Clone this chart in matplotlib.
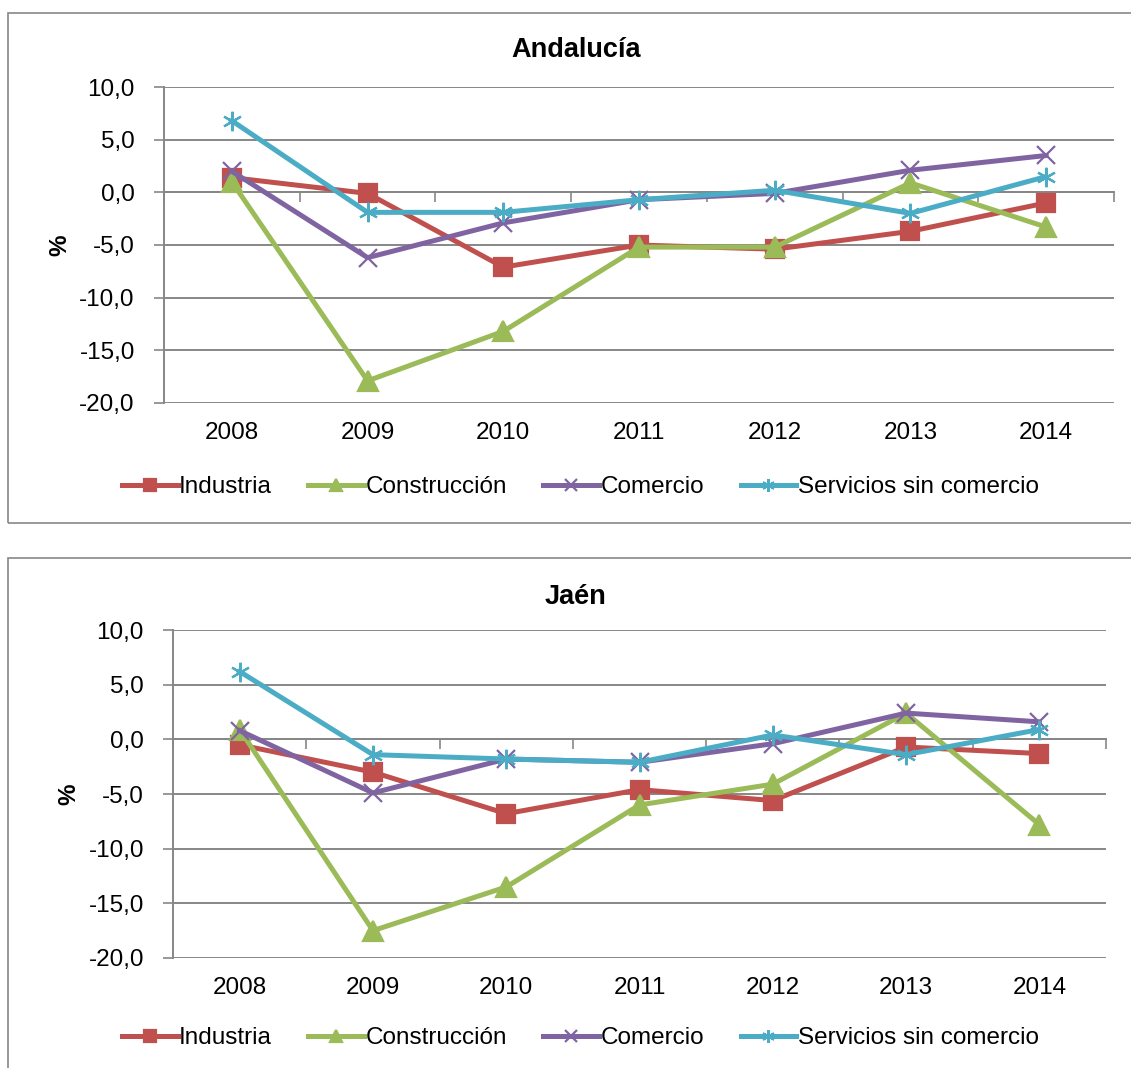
""" Andalucía / Jaén: variación anual (%) por sector, 2008-2014 """

import matplotlib
matplotlib.use("Agg")
import matplotlib.pyplot as plt
from matplotlib.patches import Rectangle

plt.rcParams["font.family"] = ["Liberation Sans", "DejaVu Sans"]

years = ["2008", "2009", "2010", "2011", "2012", "2013", "2014"]
series_names = ["Industria", "Construcción", "Comercio", "Servicios sin comercio"]

# Andalucía
and_industria = [1.4, -0.1, -7.1, -5.0, -5.4, -3.7, -1.0]
and_construccion = [1.0, -17.9, -13.2, -5.2, -5.2, 0.9, -3.3]
and_comercio = [2.0, -6.2, -2.9, -0.7, -0.1, 2.1, 3.5]
and_servicios = [6.8, -1.9, -1.9, -0.7, 0.2, -2.0, 1.5]

# Jaén
jae_industria = [-0.5, -3.0, -6.8, -4.6, -5.6, -0.7, -1.3]
jae_construccion = [0.9, -17.5, -13.5, -6.0, -4.1, 2.4, -7.8]
jae_comercio = [0.8, -4.9, -1.8, -2.1, -0.4, 2.4, 1.6]
jae_servicios = [6.2, -1.4, -1.8, -2.1, 0.4, -1.4, 0.9]

y_ticks = [-20, -15, -10, -5, 0, 5, 10]
y_labels = ["-20,0", "-15,0", "-10,0", "-5,0", "0,0", "5,0", "10,0"]

colors = ["#C0504D", "#9BBB59", "#8064A2", "#4BACC6"]
markers = ["s", "^", "x", (6, 2, 0)]
msizes = [13, 14, 13.5, 14]
grid_col = "#878787"
FS = 17.5


def draw_panel(fig, rect, title, data, title_y, legend_y):
    ax = fig.add_axes(rect)
    x = list(range(len(years)))
    handles = []
    for vals, name, c, m, ms in zip(data, series_names, colors, markers, msizes):
        h, = ax.plot(x, vals, color=c, linewidth=3.6, marker=m, markersize=ms,
                     markerfacecolor=c, markeredgecolor=c, markeredgewidth=1.6,
                     label=name, zorder=3, solid_joinstyle="round")
        handles.append(h)
    ax.set_xlim(-0.5, len(years) - 0.5)
    ax.set_ylim(-20, 10)
    ax.set_yticks(y_ticks)
    ax.set_yticklabels(y_labels, fontsize=FS)
    ax.yaxis.grid(True, color=grid_col, linewidth=1.4)
    ax.set_axisbelow(True)
    ax.tick_params(axis="y", length=7, width=1.2, color=grid_col, pad=14)
    for s in ["top", "right"]:
        ax.spines[s].set_visible(False)
    ax.spines["left"].set_color(grid_col)
    ax.spines["left"].set_linewidth(1.4)
    # category axis crosses at zero, with boundary tick marks
    ax.spines["bottom"].set_position(("data", 0))
    ax.spines["bottom"].set_color(grid_col)
    ax.spines["bottom"].set_linewidth(1.4)
    ax.set_xticks([i - 0.5 for i in range(len(years) + 1)])
    ax.set_xticklabels([])
    ax.tick_params(axis="x", length=7, width=1.2, color=grid_col)
    # year labels at the bottom of the plot area
    sec = ax.secondary_xaxis(0)
    sec.set_xticks(x)
    sec.set_xticklabels(years, fontsize=FS)
    sec.tick_params(length=0, pad=14)
    sec.spines["bottom"].set_visible(False)
    ax.set_ylabel("%", fontsize=FS, fontweight="bold", labelpad=6)
    fig.text(0.509, title_y, title,
             fontsize=19.5, fontweight="bold", ha="center", va="center")
    fig.legend(handles=handles, loc="center", ncol=4,
               bbox_to_anchor=(0.513, legend_y), frameon=False, fontsize=FS,
               handlelength=2.3, handletextpad=0.05, columnspacing=1.5,
               markerscale=0.65)
    return ax


fig = plt.figure(figsize=(11.31, 10.68), dpi=100)

# chart frames
fig.add_artist(Rectangle((0.00707, 0.5103), 1.1, 0.4775, transform=fig.transFigure,
                         fill=False, edgecolor=grid_col, linewidth=1.2))
fig.add_artist(Rectangle((0.00707, -0.2), 1.1, 0.6775, transform=fig.transFigure,
                         fill=False, edgecolor=grid_col, linewidth=1.2))

draw_panel(fig, [0.1450, 0.6227, 0.8400, 0.2958], "Andalucía",
           [and_industria, and_construccion, and_comercio, and_servicios],
           1 - 50 / 1068, 1 - 487 / 1068)
draw_panel(fig, [0.1530, 0.1030, 0.8249, 0.3071], "Jaén",
           [jae_industria, jae_construccion, jae_comercio, jae_servicios],
           1 - 597 / 1068, 1 - 1038 / 1068)

fig.savefig("out.png", dpi=100)
